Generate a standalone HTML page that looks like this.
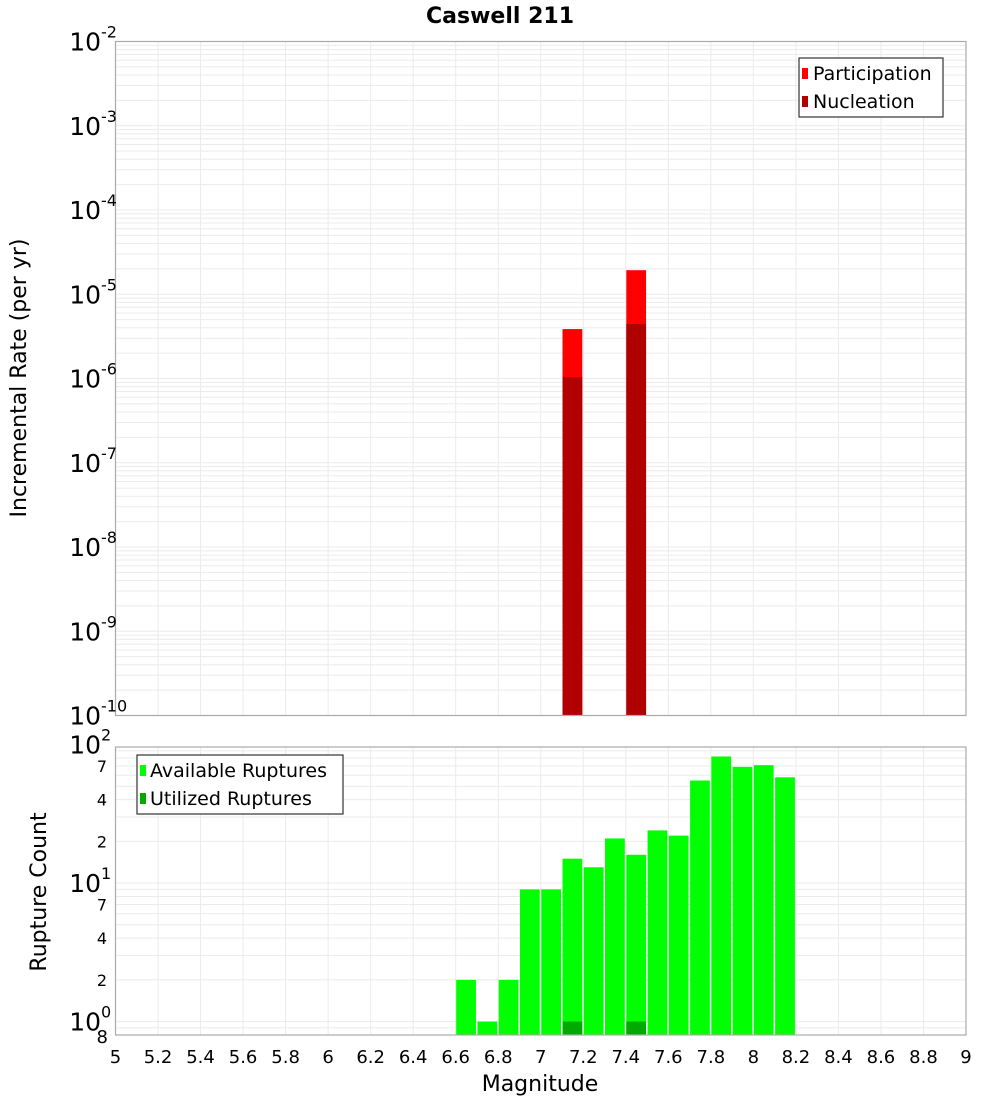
<!DOCTYPE html>
<html><head><meta charset="utf-8"><style>
html,body{margin:0;padding:0;background:#fff;}
svg{display:block;font-family:"DejaVu Sans","Liberation Sans",sans-serif;}
</style></head><body>
<svg id="chart" width="1000" height="1100" xmlns="http://www.w3.org/2000/svg">
<text x="500" y="23" text-anchor="middle" font-size="22" font-weight="bold">Caswell 211</text>
<g id="topPlot"></g>
<g id="botPlot"></g>
<text transform="translate(26,378) rotate(-90)" text-anchor="middle" font-size="22">Incremental Rate (per yr)</text>
<text transform="translate(46,892) rotate(-90)" text-anchor="middle" font-size="22">Rupture Count</text>
<text x="540" y="1091" text-anchor="middle" font-size="22">Magnitude</text>
<g id="legends">
<g>
<rect x="799" y="58" width="144" height="59" fill="#fff" stroke="#333" stroke-width="1.2"></rect>
<rect x="802" y="68" width="6" height="11" fill="#ff0000"></rect>
<text x="813" y="80" font-size="19">Participation</text>
<rect x="802" y="96" width="6" height="11" fill="#b00000"></rect>
<text x="813" y="108" font-size="19">Nucleation</text>
</g>
<g>
<rect x="137" y="755" width="206" height="59" fill="#fff" stroke="#333" stroke-width="1.2"></rect>
<rect x="140" y="765" width="6" height="11" fill="#00ff00"></rect>
<text x="150" y="777" font-size="19">Available Ruptures</text>
<rect x="140" y="793" width="6" height="11" fill="#00aa00"></rect>
<text x="150" y="805" font-size="19">Utilized Ruptures</text>
</g>
</g>
</svg>
<script>
const rateMags = [7.1, 7.4];
const participationRates = [3.86e-6, 1.93e-5];
const nucleationRates = [1.04e-6, 4.43e-6];
const countMags = [6.6, 6.7, 6.8, 6.9, 7.0, 7.1, 7.2, 7.3, 7.4, 7.5, 7.6, 7.7, 7.8, 7.9, 8.0, 8.1];
const availableCounts = [2, 1, 2, 9, 9, 15, 13, 21, 16, 24, 22, 55, 82, 69, 71, 58];
const utilizedMags = [7.1, 7.4];
const utilizedCounts = [1, 1];
const xTicks = [5, 5.2, 5.4, 5.6, 5.8, 6, 6.2, 6.4, 6.6, 6.8, 7, 7.2, 7.4, 7.6, 7.8, 8, 8.2, 8.4, 8.6, 8.8, 9];
const rateExps = [-2, -3, -4, -5, -6, -7, -8, -9, -10];
const countMinorLabels = [2, 4, 7, 20, 40, 70];

const NS = "http://www.w3.org/2000/svg";
const X0 = 115.5, X1 = 966;
const xs = m => X0 + (m - 5) / 4 * (X1 - X0);
const T0 = 41.5, T1 = 715.5;
const ty = v => T0 + (-2 - Math.log10(v)) / 8 * (T1 - T0);
const B0 = 747, B1 = 1035;
const bTop = Math.log10(96), bBot = Math.log10(0.8);
const by = v => B0 + (bTop - Math.log10(v)) / (bTop - bBot) * (B1 - B0);

function mk(tag, attrs, parent) {
  const e = document.createElementNS(NS, tag);
  for (const k in attrs) e.setAttribute(k, attrs[k]);
  parent.appendChild(e);
  return e;
}
const topG = document.getElementById('topPlot');
const botG = document.getElementById('botPlot');
const svgEl = document.getElementById('chart');
const legendsG = document.getElementById('legends');

for (let e = -10; e < -2; e++) for (let k = 1; k < 10; k++) {
  const y = ty(k * Math.pow(10, e));
  const l = mk('line', {x1: X0, x2: X1, y1: y, y2: y, stroke: '#ebebeb', 'stroke-width': 1}, topG);
  
  
}
for (let e = -1; e < 2; e++) for (let k = 1; k < 10; k++) {
  const v = k * Math.pow(10, e);
  if (v < 0.8 || v > 96) continue;
  const y = by(v);
  const l = mk('line', {x1: X0, x2: X1, y1: y, y2: y, stroke: '#ebebeb', 'stroke-width': 1}, botG);
  
  
}
xTicks.forEach((t) => {
  const x = xs(t);
  const l1 = mk('line', {x1: x, x2: x, y1: T0, y2: T1, stroke: '#ebebeb', 'stroke-width': 1}, topG);
  
  
  const l2 = mk('line', {x1: x, x2: x, y1: B0, y2: B1, stroke: '#ebebeb', 'stroke-width': 1}, botG);
  
  
  const tx = mk('text', {x: x, y: 1063, 'text-anchor': 'middle', 'font-size': 18}, svgEl);
  tx.textContent = String(t);
  
  
});

const bw = (xs(5.1) - xs(5)) - 1.5;
rateMags.forEach((m, i) => {
  const x = xs(m) + 0.5;
  const yp = ty(participationRates[i]);
  const r1 = mk('rect', {x: x, y: yp, width: bw, height: T1 - yp, fill: '#ff0000'}, topG);
  
  
  const yn = ty(nucleationRates[i]);
  const r2 = mk('rect', {x: x, y: yn, width: bw, height: T1 - yn, fill: '#b00000'}, topG);
  
  
});
countMags.forEach((m, i) => {
  const x = xs(m) + 0.5;
  const y = by(availableCounts[i]);
  const r = mk('rect', {x: x, y: y, width: bw, height: B1 - y, fill: '#00ff00'}, botG);
  
  
});
utilizedMags.forEach((m, i) => {
  const x = xs(m) + 0.5;
  const y = by(utilizedCounts[i]);
  const r = mk('rect', {x: x, y: y, width: bw, height: B1 - y, fill: '#00aa00'}, botG);
  
  
});

const f1 = mk('rect', {x: X0, y: T0, width: X1 - X0, height: T1 - T0, fill: 'none', stroke: '#aaa', 'stroke-width': 1.2}, topG);


const f2 = mk('rect', {x: X0, y: B0, width: X1 - X0, height: B1 - B0, fill: 'none', stroke: '#aaa', 'stroke-width': 1.2}, botG);



function powLabel(y, exp, name) {
  const t = mk('text', {x: 101, y: y + 9, 'text-anchor': 'end', 'font-size': 25}, svgEl);
  t.textContent = '10';
  
  
  const s = mk('text', {x: 101, y: y - 4, 'text-anchor': 'start', 'font-size': 16}, svgEl);
  s.textContent = String(exp);
  
  
}
rateExps.forEach(e => powLabel(ty(Math.pow(10, e)), e, 'rate-y-tick-label'));
[2, 1, 0].forEach(e => powLabel(by(Math.pow(10, e)), e, 'count-y-tick-label'));
countMinorLabels.forEach(v => {
  const t = mk('text', {x: 107, y: by(v) + 6, 'text-anchor': 'end', 'font-size': 16}, svgEl);
  t.textContent = String(v < 10 ? v : v / 10);
  
  
});
const t8 = mk('text', {x: 108, y: by(0.8) + 8, 'text-anchor': 'end', 'font-size': 18}, svgEl);
t8.textContent = '8';


svgEl.appendChild(legendsG);
</script>
</body></html>
